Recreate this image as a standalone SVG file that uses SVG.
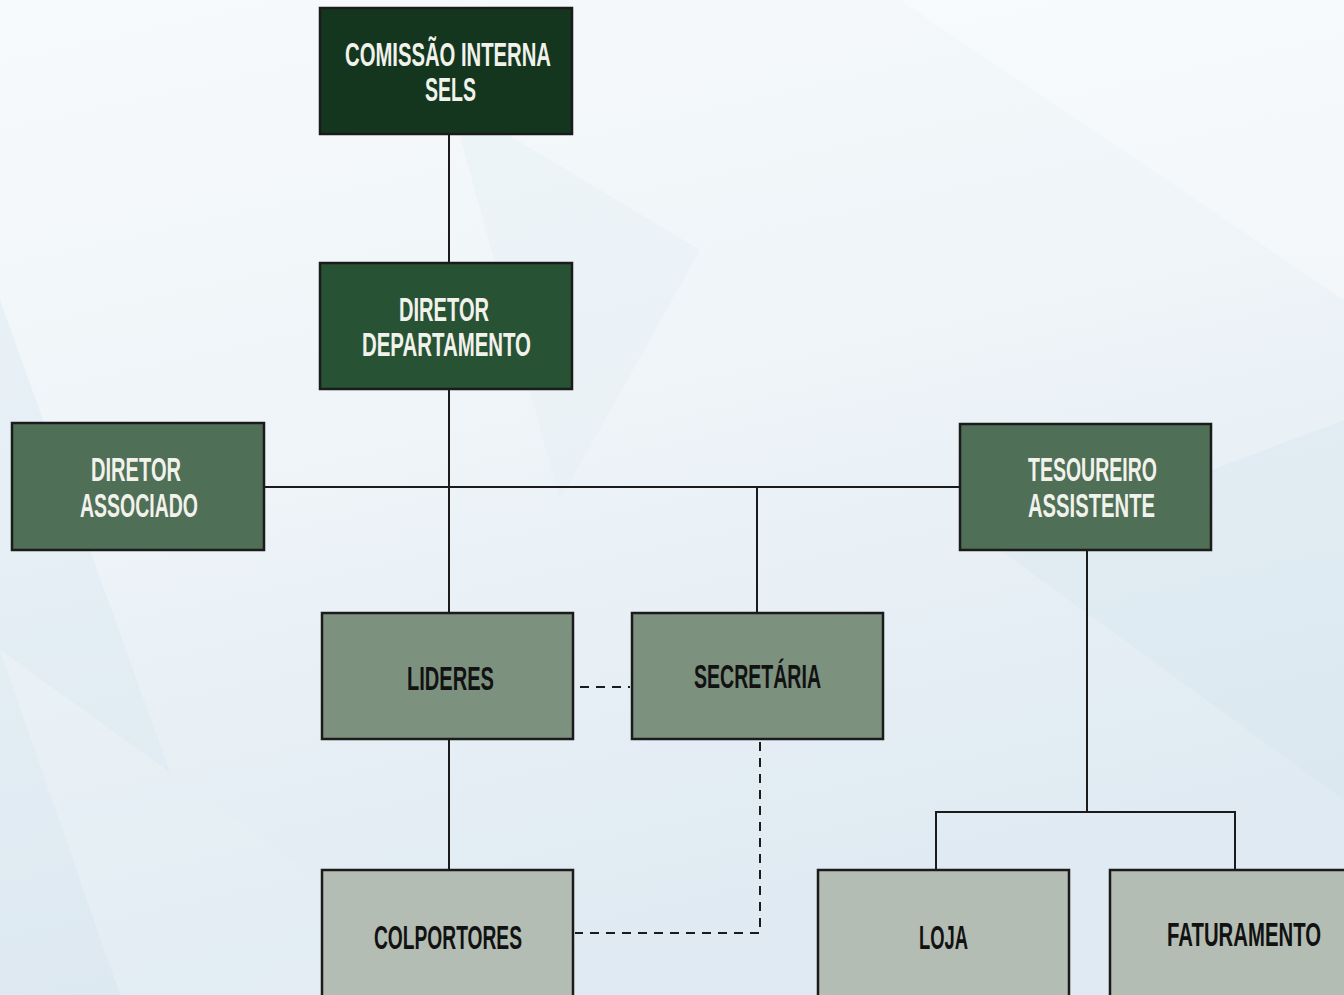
<svg xmlns="http://www.w3.org/2000/svg" width="1344" height="995" viewBox="0 0 1344 995">
<defs>
<linearGradient id="bg" x1="0" y1="0" x2="0.3" y2="1">
<stop offset="0" stop-color="#f7fafc"/>
<stop offset="0.5" stop-color="#eef4f8"/>
<stop offset="1" stop-color="#dfeaf2"/>
</linearGradient>
<style>
.box{stroke:#1b1b1b;stroke-width:2.5}
.n1{fill:#14361f}
.n2{fill:#275234}
.n3{fill:#4f6f57}
.n4{fill:#7d917f}
.n5{fill:#b4bdb3}
.t{font-family:"Liberation Sans",Arial,sans-serif;font-weight:bold;font-size:33px;text-anchor:start}
.tl{fill:#f2f2ec}
.td{fill:#121212}
.ln{stroke:#1b1b1b;stroke-width:2;fill:none}
.dash{stroke:#1b1b1b;stroke-width:2;fill:none;stroke-dasharray:9 7}
</style>
</defs>
<rect width="1344" height="995" fill="url(#bg)"/>
<g opacity="0.35">
<polygon points="0,300 250,995 0,995" fill="#d7e6f0"/>
<polygon points="900,0 1344,0 1344,300" fill="#ffffff"/>
<polygon points="0,650 480,995 120,995" fill="#e8f1f6"/>
<polygon points="1000,550 1344,420 1344,800" fill="#d4e4ee"/>
<polygon points="450,100 700,250 560,500" fill="#e2edf4"/>
</g>
<g id="connectors">
<line class="ln" x1="449" y1="134" x2="449" y2="263"/>
<line class="ln" x1="449" y1="389" x2="449" y2="613"/>
<line class="ln" x1="264" y1="487" x2="960" y2="487"/>
<line class="ln" x1="757" y1="487" x2="757" y2="613"/>
<line class="ln" x1="1087" y1="550" x2="1087" y2="812"/>
<polyline class="ln" points="936,870 936,812 1235,812 1235,870"/>
<line class="ln" x1="449" y1="739" x2="449" y2="870"/>
<line class="dash" x1="580" y1="687" x2="630" y2="687"/>
<polyline class="dash" points="760,742 760,933 575,933"/>
</g>
<g id="comissao">
<rect class="box n1" x="320" y="8" width="252" height="126"/>
<text class="t tl" x="345" y="66" textLength="206" lengthAdjust="spacingAndGlyphs">COMISSÃO INTERNA</text>
<text class="t tl" x="425" y="101" textLength="51" lengthAdjust="spacingAndGlyphs">SELS</text>
</g>
<g id="diretor-departamento">
<rect class="box n2" x="320" y="263" width="252" height="126"/>
<text class="t tl" x="399" y="321" textLength="90" lengthAdjust="spacingAndGlyphs">DIRETOR</text>
<text class="t tl" x="362" y="356" textLength="169" lengthAdjust="spacingAndGlyphs">DEPARTAMENTO</text>
</g>
<g id="diretor-associado">
<rect class="box n3" x="12" y="423" width="252" height="127"/>
<text class="t tl" x="91" y="481" textLength="90" lengthAdjust="spacingAndGlyphs">DIRETOR</text>
<text class="t tl" x="80" y="517" textLength="118" lengthAdjust="spacingAndGlyphs">ASSOCIADO</text>
</g>
<g id="tesoureiro-assistente">
<rect class="box n3" x="960" y="424" width="251" height="126"/>
<text class="t tl" x="1028" y="481" textLength="129" lengthAdjust="spacingAndGlyphs">TESOUREIRO</text>
<text class="t tl" x="1028" y="517" textLength="127" lengthAdjust="spacingAndGlyphs">ASSISTENTE</text>
</g>
<g id="lideres">
<rect class="box n4" x="322" y="613" width="251" height="126"/>
<text class="t td" x="407" y="690" textLength="87" lengthAdjust="spacingAndGlyphs">LIDERES</text>
</g>
<g id="secretaria">
<rect class="box n4" x="632" y="613" width="251" height="126"/>
<text class="t td" x="694" y="688" textLength="127" lengthAdjust="spacingAndGlyphs">SECRETÁRIA</text>
</g>
<g id="colportores">
<rect class="box n5" x="322" y="870" width="251" height="140"/>
<text class="t td" x="374" y="949" textLength="148" lengthAdjust="spacingAndGlyphs">COLPORTORES</text>
</g>
<g id="loja">
<rect class="box n5" x="818" y="870" width="251" height="140"/>
<text class="t td" x="919" y="949" textLength="49" lengthAdjust="spacingAndGlyphs">LOJA</text>
</g>
<g id="faturamento">
<rect class="box n5" x="1110" y="870" width="251" height="140"/>
<text class="t td" x="1167" y="946" textLength="154" lengthAdjust="spacingAndGlyphs">FATURAMENTO</text>
</g>
</svg>
